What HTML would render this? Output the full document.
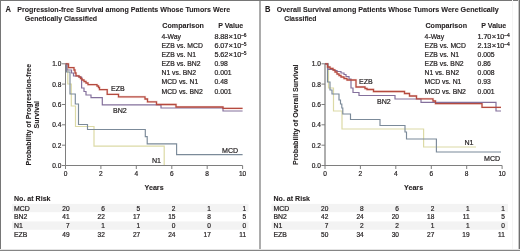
<!DOCTYPE html><html><head><meta charset="utf-8"><style>html,body{margin:0;padding:0;background:#fff;}svg{display:block;filter:blur(0.25px);}text{font-family:"Liberation Sans", sans-serif;fill:#231f20;stroke:#231f20;stroke-width:0.22px;}.b{font-weight:bold;stroke-width:0.1px;}</style></head><body>
<svg width="520" height="251" viewBox="0 0 520 251">
<rect x="0" y="0" width="520" height="251" fill="#fff"/>
<rect x="12.0" y="203.9" width="236.5" height="8.3" fill="#f3f3f3"/>
<rect x="12.0" y="221.4" width="236.5" height="8.3" fill="#f3f3f3"/>
<text class="b" x="5.60" y="11.90" font-size="8.69" textLength="5.45" lengthAdjust="spacingAndGlyphs">A</text>
<text class="b" x="17.30" y="11.80" font-size="7.95" textLength="212.80" lengthAdjust="spacingAndGlyphs">Progression-free Survival among Patients Whose Tumors Were</text>
<text class="b" x="24.80" y="21.00" font-size="7.95" textLength="72.30" lengthAdjust="spacingAndGlyphs">Genetically Classified</text>
<text class="b" x="162.30" y="28.20" font-size="7.84" textLength="41.60" lengthAdjust="spacingAndGlyphs">Comparison</text>
<text class="b" x="218.20" y="28.20" font-size="7.84" textLength="25.00" lengthAdjust="spacingAndGlyphs">P Value</text>
<text x="161.50" y="38.80" font-size="7.42" textLength="19.47" lengthAdjust="spacingAndGlyphs">4-Way</text>
<text x="214.50" y="38.80" font-size="7.3" letter-spacing="-0.15">8.88<tspan dx="0.5" font-size="7.6">×</tspan><tspan dx="0.4">10</tspan><tspan font-size="4.9" dy="-2.1">−6</tspan></text>
<text x="161.50" y="47.92" font-size="7.42" textLength="41.33" lengthAdjust="spacingAndGlyphs">EZB vs. MCD</text>
<text x="214.50" y="47.92" font-size="7.3" letter-spacing="-0.15">6.07<tspan dx="0.5" font-size="7.6">×</tspan><tspan dx="0.4">10</tspan><tspan font-size="4.9" dy="-2.1">−5</tspan></text>
<text x="161.50" y="57.04" font-size="7.42" textLength="34.51" lengthAdjust="spacingAndGlyphs">EZB vs. N1</text>
<text x="214.50" y="57.04" font-size="7.3" letter-spacing="-0.15">5.62<tspan dx="0.5" font-size="7.6">×</tspan><tspan dx="0.4">10</tspan><tspan font-size="4.9" dy="-2.1">−5</tspan></text>
<text x="161.50" y="66.16" font-size="7.42" textLength="39.06" lengthAdjust="spacingAndGlyphs">EZB vs. BN2</text>
<text x="214.50" y="66.16" font-size="7.42" textLength="13.28" lengthAdjust="spacingAndGlyphs">0.98</text>
<text x="161.50" y="75.28" font-size="7.42" textLength="34.52" lengthAdjust="spacingAndGlyphs">N1 vs. BN2</text>
<text x="214.50" y="75.28" font-size="7.42" textLength="17.08" lengthAdjust="spacingAndGlyphs">0.001</text>
<text x="161.50" y="84.40" font-size="7.42" textLength="36.78" lengthAdjust="spacingAndGlyphs">MCD vs. N1</text>
<text x="214.50" y="84.40" font-size="7.42" textLength="13.28" lengthAdjust="spacingAndGlyphs">0.48</text>
<text x="161.50" y="93.52" font-size="7.42" textLength="41.33" lengthAdjust="spacingAndGlyphs">MCD vs. BN2</text>
<text x="214.50" y="93.52" font-size="7.42" textLength="17.08" lengthAdjust="spacingAndGlyphs">0.001</text>
<path d="M65.5 63.8 V165.5" fill="none" stroke="#7e7e7e" stroke-width="1.00"/>
<path d="M65.5 165.5 H242.6" fill="none" stroke="#7e7e7e" stroke-width="1"/>
<path d="M62.0 165.5 H65.5" stroke="#7e7e7e" stroke-width="1"/>
<text x="61.30" y="167.90" font-size="7.31" text-anchor="end" textLength="9.11" lengthAdjust="spacingAndGlyphs">0.0</text>
<path d="M62.0 145.2 H65.5" stroke="#7e7e7e" stroke-width="1"/>
<text x="61.30" y="147.56" font-size="7.31" text-anchor="end" textLength="9.11" lengthAdjust="spacingAndGlyphs">0.2</text>
<path d="M62.0 124.8 H65.5" stroke="#7e7e7e" stroke-width="1"/>
<text x="61.30" y="127.22" font-size="7.31" text-anchor="end" textLength="9.11" lengthAdjust="spacingAndGlyphs">0.4</text>
<path d="M62.0 104.5 H65.5" stroke="#7e7e7e" stroke-width="1"/>
<text x="61.30" y="106.88" font-size="7.31" text-anchor="end" textLength="9.11" lengthAdjust="spacingAndGlyphs">0.6</text>
<path d="M62.0 84.1 H65.5" stroke="#7e7e7e" stroke-width="1"/>
<text x="61.30" y="86.54" font-size="7.31" text-anchor="end" textLength="9.11" lengthAdjust="spacingAndGlyphs">0.8</text>
<path d="M62.0 63.8 H65.5" stroke="#7e7e7e" stroke-width="1"/>
<text x="61.30" y="66.20" font-size="7.31" text-anchor="end" textLength="9.11" lengthAdjust="spacingAndGlyphs">1.0</text>
<path d="M65.5 165.5 V169" stroke="#7e7e7e" stroke-width="1"/>
<text x="65.50" y="176.40" font-size="7.31" text-anchor="middle" textLength="3.65" lengthAdjust="spacingAndGlyphs">0</text>
<path d="M100.9 165.5 V169" stroke="#7e7e7e" stroke-width="1"/>
<text x="100.92" y="176.40" font-size="7.31" text-anchor="middle" textLength="3.65" lengthAdjust="spacingAndGlyphs">2</text>
<path d="M136.3 165.5 V169" stroke="#7e7e7e" stroke-width="1"/>
<text x="136.34" y="176.40" font-size="7.31" text-anchor="middle" textLength="3.65" lengthAdjust="spacingAndGlyphs">4</text>
<path d="M171.8 165.5 V169" stroke="#7e7e7e" stroke-width="1"/>
<text x="171.76" y="176.40" font-size="7.31" text-anchor="middle" textLength="3.65" lengthAdjust="spacingAndGlyphs">6</text>
<path d="M207.2 165.5 V169" stroke="#7e7e7e" stroke-width="1"/>
<text x="207.18" y="176.40" font-size="7.31" text-anchor="middle" textLength="3.65" lengthAdjust="spacingAndGlyphs">8</text>
<path d="M242.6 165.5 V169" stroke="#7e7e7e" stroke-width="1"/>
<text x="242.60" y="176.40" font-size="7.31" text-anchor="middle" textLength="7.29" lengthAdjust="spacingAndGlyphs">10</text>
<text class="b" x="144.60" y="190.20" font-size="7.95" textLength="19.00" lengthAdjust="spacingAndGlyphs">Years</text>
<g transform="translate(31.0 114.7) rotate(-90)"><text class="b" x="0.00" y="0.00" font-size="7.84" text-anchor="middle" textLength="101.50" lengthAdjust="spacingAndGlyphs">Probability of Progression-free</text></g>
<g transform="translate(38.9 114.7) rotate(-90)"><text class="b" x="0.00" y="0.00" font-size="7.84" text-anchor="middle" textLength="27.50" lengthAdjust="spacingAndGlyphs">Survival</text></g>
<path d="M65.5 63.8 H68.5 V67.6 H74.0 V70.0 H75.0 V73.0 H76.0 V75.8 H79.0 V77.0 H80.5 V78.5 H82.0 V80.0 H84.0 V81.5 H86.0 V83.0 H88.0 V84.6 H97.0 V86.0 H98.5 V87.5 H99.5 V89.6 H107.2 V94.3 H118.5 V96.9 H145.0 V99.0 H147.5 V101.8 H156.5 V104.5 H176.0 V107.0 H223.0 V108.4 H242.6" fill="none" stroke="#f3cdc6" stroke-width="2.6" opacity="0.4"/>
<path d="M65.5 63.8 H67.8 V84.0 H71.3 V106.0 H75.5 V126.5 H94.0 V146.2 H164.2 V165.0" fill="none" stroke="#dcdaa6" stroke-width="1.20"/>
<path d="M65.5 63.8 H66.5 V72.0 H70.0 V94.0 H75.3 V104.0 H78.5 V124.5 H87.5 V129.5 H145.3 V136.6 H147.2 V143.8 H176.6 V154.6 H242.6" fill="none" stroke="#7b8a99" stroke-width="1.15"/>
<path d="M65.5 63.8 H67.0 V70.0 H71.5 V73.0 H73.5 V76.0 H79.0 V77.0 H81.6 V88.0 H84.0 V91.5 H86.0 V95.0 H91.0 V97.6 H102.3 V104.8 H161.0 V108.0 H223.0 V111.0 H242.6" fill="none" stroke="#84709c" stroke-width="1.20"/>
<path d="M65.5 63.8 H68.5 V67.6 H74.0 V70.0 H75.0 V73.0 H76.0 V75.8 H79.0 V77.0 H80.5 V78.5 H82.0 V80.0 H84.0 V81.5 H86.0 V83.0 H88.0 V84.6 H97.0 V86.0 H98.5 V87.5 H99.5 V89.6 H107.2 V94.3 H118.5 V96.9 H145.0 V99.0 H147.5 V101.8 H156.5 V104.5 H176.0 V107.0 H223.0 V108.4 H242.6" fill="none" stroke="#b54a3f" stroke-width="1.30"/>
<text x="111.00" y="91.00" font-size="7.74" textLength="13.77" lengthAdjust="spacingAndGlyphs">EZB</text>
<text x="113.00" y="113.20" font-size="7.74" textLength="13.78" lengthAdjust="spacingAndGlyphs">BN2</text>
<text x="152.00" y="162.70" font-size="7.74" textLength="9.05" lengthAdjust="spacingAndGlyphs">N1</text>
<text x="222.00" y="152.50" font-size="7.74" textLength="16.13" lengthAdjust="spacingAndGlyphs">MCD</text>
<text class="b" x="14.00" y="201.00" font-size="7.84" textLength="36.50" lengthAdjust="spacingAndGlyphs">No. at Risk</text>
<text x="14.00" y="210.50" font-size="7.53" textLength="15.77" lengthAdjust="spacingAndGlyphs">MCD</text>
<text x="69.60" y="210.50" font-size="7.31" text-anchor="end" textLength="7.29" lengthAdjust="spacingAndGlyphs">20</text>
<text x="104.90" y="210.50" font-size="7.31" text-anchor="end" textLength="3.65" lengthAdjust="spacingAndGlyphs">6</text>
<text x="140.20" y="210.50" font-size="7.31" text-anchor="end" textLength="3.65" lengthAdjust="spacingAndGlyphs">5</text>
<text x="175.50" y="210.50" font-size="7.31" text-anchor="end" textLength="3.65" lengthAdjust="spacingAndGlyphs">2</text>
<text x="210.80" y="210.50" font-size="7.31" text-anchor="end" textLength="3.65" lengthAdjust="spacingAndGlyphs">1</text>
<text x="246.10" y="210.50" font-size="7.31" text-anchor="end" textLength="3.65" lengthAdjust="spacingAndGlyphs">1</text>
<text x="14.00" y="219.22" font-size="7.53" textLength="13.47" lengthAdjust="spacingAndGlyphs">BN2</text>
<text x="69.60" y="219.22" font-size="7.31" text-anchor="end" textLength="7.29" lengthAdjust="spacingAndGlyphs">41</text>
<text x="104.90" y="219.22" font-size="7.31" text-anchor="end" textLength="7.29" lengthAdjust="spacingAndGlyphs">22</text>
<text x="140.20" y="219.22" font-size="7.31" text-anchor="end" textLength="7.29" lengthAdjust="spacingAndGlyphs">17</text>
<text x="175.50" y="219.22" font-size="7.31" text-anchor="end" textLength="7.29" lengthAdjust="spacingAndGlyphs">15</text>
<text x="210.80" y="219.22" font-size="7.31" text-anchor="end" textLength="3.65" lengthAdjust="spacingAndGlyphs">8</text>
<text x="246.10" y="219.22" font-size="7.31" text-anchor="end" textLength="3.65" lengthAdjust="spacingAndGlyphs">5</text>
<text x="14.00" y="227.94" font-size="7.53" textLength="8.85" lengthAdjust="spacingAndGlyphs">N1</text>
<text x="69.60" y="227.94" font-size="7.31" text-anchor="end" textLength="3.65" lengthAdjust="spacingAndGlyphs">7</text>
<text x="104.90" y="227.94" font-size="7.31" text-anchor="end" textLength="3.65" lengthAdjust="spacingAndGlyphs">1</text>
<text x="140.20" y="227.94" font-size="7.31" text-anchor="end" textLength="3.65" lengthAdjust="spacingAndGlyphs">1</text>
<text x="175.50" y="227.94" font-size="7.31" text-anchor="end" textLength="3.65" lengthAdjust="spacingAndGlyphs">0</text>
<text x="210.80" y="227.94" font-size="7.31" text-anchor="end" textLength="3.65" lengthAdjust="spacingAndGlyphs">0</text>
<text x="246.10" y="227.94" font-size="7.31" text-anchor="end" textLength="3.65" lengthAdjust="spacingAndGlyphs">0</text>
<text x="14.00" y="236.66" font-size="7.53" textLength="13.46" lengthAdjust="spacingAndGlyphs">EZB</text>
<text x="69.60" y="236.66" font-size="7.31" text-anchor="end" textLength="7.29" lengthAdjust="spacingAndGlyphs">49</text>
<text x="104.90" y="236.66" font-size="7.31" text-anchor="end" textLength="7.29" lengthAdjust="spacingAndGlyphs">32</text>
<text x="140.20" y="236.66" font-size="7.31" text-anchor="end" textLength="7.29" lengthAdjust="spacingAndGlyphs">27</text>
<text x="175.50" y="236.66" font-size="7.31" text-anchor="end" textLength="7.29" lengthAdjust="spacingAndGlyphs">24</text>
<text x="210.80" y="236.66" font-size="7.31" text-anchor="end" textLength="7.29" lengthAdjust="spacingAndGlyphs">17</text>
<text x="246.10" y="236.66" font-size="7.31" text-anchor="end" textLength="6.80" lengthAdjust="spacingAndGlyphs">11</text>
<rect x="271.5" y="203.9" width="236.5" height="8.3" fill="#f3f3f3"/>
<rect x="271.5" y="221.4" width="236.5" height="8.3" fill="#f3f3f3"/>
<text class="b" x="265.10" y="11.90" font-size="8.69" textLength="5.45" lengthAdjust="spacingAndGlyphs">B</text>
<text class="b" x="276.80" y="11.80" font-size="7.95" textLength="222.00" lengthAdjust="spacingAndGlyphs">Overall Survival among Patients Whose Tumors Were Genetically</text>
<text class="b" x="284.30" y="21.00" font-size="7.95" textLength="32.20" lengthAdjust="spacingAndGlyphs">Classified</text>
<text class="b" x="425.40" y="28.20" font-size="7.84" textLength="41.60" lengthAdjust="spacingAndGlyphs">Comparison</text>
<text class="b" x="481.30" y="28.20" font-size="7.84" textLength="25.00" lengthAdjust="spacingAndGlyphs">P Value</text>
<text x="424.60" y="38.80" font-size="7.42" textLength="19.47" lengthAdjust="spacingAndGlyphs">4-Way</text>
<text x="477.60" y="38.80" font-size="7.3" letter-spacing="-0.15">1.70<tspan dx="0.5" font-size="7.6">×</tspan><tspan dx="0.4">10</tspan><tspan font-size="4.9" dy="-2.1">−4</tspan></text>
<text x="424.60" y="47.92" font-size="7.42" textLength="41.33" lengthAdjust="spacingAndGlyphs">EZB vs. MCD</text>
<text x="477.60" y="47.92" font-size="7.3" letter-spacing="-0.15">2.13<tspan dx="0.5" font-size="7.6">×</tspan><tspan dx="0.4">10</tspan><tspan font-size="4.9" dy="-2.1">−4</tspan></text>
<text x="424.60" y="57.04" font-size="7.42" textLength="34.51" lengthAdjust="spacingAndGlyphs">EZB vs. N1</text>
<text x="477.60" y="57.04" font-size="7.42" textLength="17.08" lengthAdjust="spacingAndGlyphs">0.005</text>
<text x="424.60" y="66.16" font-size="7.42" textLength="39.06" lengthAdjust="spacingAndGlyphs">EZB vs. BN2</text>
<text x="477.60" y="66.16" font-size="7.42" textLength="13.28" lengthAdjust="spacingAndGlyphs">0.86</text>
<text x="424.60" y="75.28" font-size="7.42" textLength="34.52" lengthAdjust="spacingAndGlyphs">N1 vs. BN2</text>
<text x="477.60" y="75.28" font-size="7.42" textLength="17.08" lengthAdjust="spacingAndGlyphs">0.008</text>
<text x="424.60" y="84.40" font-size="7.42" textLength="36.78" lengthAdjust="spacingAndGlyphs">MCD vs. N1</text>
<text x="477.60" y="84.40" font-size="7.42" textLength="13.28" lengthAdjust="spacingAndGlyphs">0.93</text>
<text x="424.60" y="93.52" font-size="7.42" textLength="41.33" lengthAdjust="spacingAndGlyphs">MCD vs. BN2</text>
<text x="477.60" y="93.52" font-size="7.42" textLength="17.08" lengthAdjust="spacingAndGlyphs">0.001</text>
<path d="M325.0 63.8 V165.5" fill="none" stroke="#7e7e7e" stroke-width="1.25"/>
<path d="M325.0 165.5 H502.1" fill="none" stroke="#7e7e7e" stroke-width="1"/>
<path d="M321.5 165.5 H325.0" stroke="#7e7e7e" stroke-width="1"/>
<text x="320.80" y="167.90" font-size="7.31" text-anchor="end" textLength="9.11" lengthAdjust="spacingAndGlyphs">0.0</text>
<path d="M321.5 145.2 H325.0" stroke="#7e7e7e" stroke-width="1"/>
<text x="320.80" y="147.56" font-size="7.31" text-anchor="end" textLength="9.11" lengthAdjust="spacingAndGlyphs">0.2</text>
<path d="M321.5 124.8 H325.0" stroke="#7e7e7e" stroke-width="1"/>
<text x="320.80" y="127.22" font-size="7.31" text-anchor="end" textLength="9.11" lengthAdjust="spacingAndGlyphs">0.4</text>
<path d="M321.5 104.5 H325.0" stroke="#7e7e7e" stroke-width="1"/>
<text x="320.80" y="106.88" font-size="7.31" text-anchor="end" textLength="9.11" lengthAdjust="spacingAndGlyphs">0.6</text>
<path d="M321.5 84.1 H325.0" stroke="#7e7e7e" stroke-width="1"/>
<text x="320.80" y="86.54" font-size="7.31" text-anchor="end" textLength="9.11" lengthAdjust="spacingAndGlyphs">0.8</text>
<path d="M321.5 63.8 H325.0" stroke="#7e7e7e" stroke-width="1"/>
<text x="320.80" y="66.20" font-size="7.31" text-anchor="end" textLength="9.11" lengthAdjust="spacingAndGlyphs">1.0</text>
<path d="M325.0 165.5 V169" stroke="#7e7e7e" stroke-width="1"/>
<text x="325.00" y="176.40" font-size="7.31" text-anchor="middle" textLength="3.65" lengthAdjust="spacingAndGlyphs">0</text>
<path d="M360.4 165.5 V169" stroke="#7e7e7e" stroke-width="1"/>
<text x="360.42" y="176.40" font-size="7.31" text-anchor="middle" textLength="3.65" lengthAdjust="spacingAndGlyphs">2</text>
<path d="M395.8 165.5 V169" stroke="#7e7e7e" stroke-width="1"/>
<text x="395.84" y="176.40" font-size="7.31" text-anchor="middle" textLength="3.65" lengthAdjust="spacingAndGlyphs">4</text>
<path d="M431.3 165.5 V169" stroke="#7e7e7e" stroke-width="1"/>
<text x="431.26" y="176.40" font-size="7.31" text-anchor="middle" textLength="3.65" lengthAdjust="spacingAndGlyphs">6</text>
<path d="M466.7 165.5 V169" stroke="#7e7e7e" stroke-width="1"/>
<text x="466.68" y="176.40" font-size="7.31" text-anchor="middle" textLength="3.65" lengthAdjust="spacingAndGlyphs">8</text>
<path d="M502.1 165.5 V169" stroke="#7e7e7e" stroke-width="1"/>
<text x="502.10" y="176.40" font-size="7.31" text-anchor="middle" textLength="7.29" lengthAdjust="spacingAndGlyphs">10</text>
<text class="b" x="404.10" y="190.20" font-size="7.95" textLength="19.00" lengthAdjust="spacingAndGlyphs">Years</text>
<g transform="translate(298.4 114.7) rotate(-90)"><text class="b" x="0.00" y="0.00" font-size="7.84" text-anchor="middle" textLength="100.50" lengthAdjust="spacingAndGlyphs">Probability of Overall Survival</text></g>
<path d="M325.0 63.8 H327.5 V67.0 H330.0 V68.5 H333.0 V70.0 H335.0 V72.0 H337.0 V74.0 H339.0 V75.5 H341.0 V77.0 H344.0 V78.5 H347.0 V80.0 H356.0 V87.0 H365.0 V88.5 H367.0 V89.5 H373.5 V91.5 H404.5 V93.5 H409.5 V96.0 H416.5 V98.8 H433.0 V101.0 H435.5 V103.6 H482.0 V107.3 H501.0" fill="none" stroke="#f3cdc6" stroke-width="2.6" opacity="0.4"/>
<path d="M325.0 63.8 H328.5 V88.0 H333.5 V111.0 H342.0 V129.0 H423.6 V147.0 H476.0" fill="none" stroke="#dcdaa6" stroke-width="1.20"/>
<path d="M325.0 63.8 H327.5 V82.0 H330.0 V90.0 H332.0 V94.0 H339.0 V100.0 H340.5 V104.0 H341.8 V108.0 H342.8 V114.0 H350.5 V119.5 H380.0 V125.5 H405.0 V132.0 H406.5 V139.0 H436.4 V152.0 H501.0" fill="none" stroke="#7b8a99" stroke-width="1.15"/>
<path d="M325.0 63.8 H328.0 V69.5 H334.0 V70.5 H337.0 V71.5 H341.0 V73.0 H344.0 V74.5 H346.0 V76.5 H349.0 V79.0 H351.0 V88.0 H353.0 V92.5 H359.0 V95.5 H395.0 V99.0 H421.0 V102.3 H496.0 V111.0 H501.0" fill="none" stroke="#84709c" stroke-width="1.20"/>
<path d="M325.0 63.8 H327.5 V67.0 H330.0 V68.5 H333.0 V70.0 H335.0 V72.0 H337.0 V74.0 H339.0 V75.5 H341.0 V77.0 H344.0 V78.5 H347.0 V80.0 H356.0 V87.0 H365.0 V88.5 H367.0 V89.5 H373.5 V91.5 H404.5 V93.5 H409.5 V96.0 H416.5 V98.8 H433.0 V101.0 H435.5 V103.6 H482.0 V107.3 H501.0" fill="none" stroke="#b54a3f" stroke-width="1.30"/>
<text x="359.00" y="84.40" font-size="7.74" textLength="13.77" lengthAdjust="spacingAndGlyphs">EZB</text>
<text x="377.00" y="104.00" font-size="7.74" textLength="13.78" lengthAdjust="spacingAndGlyphs">BN2</text>
<text x="464.40" y="145.00" font-size="7.74" textLength="9.05" lengthAdjust="spacingAndGlyphs">N1</text>
<text x="484.00" y="161.00" font-size="7.74" textLength="16.13" lengthAdjust="spacingAndGlyphs">MCD</text>
<text class="b" x="273.50" y="201.00" font-size="7.84" textLength="36.50" lengthAdjust="spacingAndGlyphs">No. at Risk</text>
<text x="273.50" y="210.50" font-size="7.53" textLength="15.77" lengthAdjust="spacingAndGlyphs">MCD</text>
<text x="328.40" y="210.50" font-size="7.31" text-anchor="end" textLength="7.29" lengthAdjust="spacingAndGlyphs">20</text>
<text x="363.70" y="210.50" font-size="7.31" text-anchor="end" textLength="3.65" lengthAdjust="spacingAndGlyphs">8</text>
<text x="399.00" y="210.50" font-size="7.31" text-anchor="end" textLength="3.65" lengthAdjust="spacingAndGlyphs">6</text>
<text x="434.30" y="210.50" font-size="7.31" text-anchor="end" textLength="3.65" lengthAdjust="spacingAndGlyphs">2</text>
<text x="469.60" y="210.50" font-size="7.31" text-anchor="end" textLength="3.65" lengthAdjust="spacingAndGlyphs">1</text>
<text x="504.90" y="210.50" font-size="7.31" text-anchor="end" textLength="3.65" lengthAdjust="spacingAndGlyphs">1</text>
<text x="273.50" y="219.22" font-size="7.53" textLength="13.47" lengthAdjust="spacingAndGlyphs">BN2</text>
<text x="328.40" y="219.22" font-size="7.31" text-anchor="end" textLength="7.29" lengthAdjust="spacingAndGlyphs">42</text>
<text x="363.70" y="219.22" font-size="7.31" text-anchor="end" textLength="7.29" lengthAdjust="spacingAndGlyphs">24</text>
<text x="399.00" y="219.22" font-size="7.31" text-anchor="end" textLength="7.29" lengthAdjust="spacingAndGlyphs">20</text>
<text x="434.30" y="219.22" font-size="7.31" text-anchor="end" textLength="7.29" lengthAdjust="spacingAndGlyphs">18</text>
<text x="469.60" y="219.22" font-size="7.31" text-anchor="end" textLength="6.80" lengthAdjust="spacingAndGlyphs">11</text>
<text x="504.90" y="219.22" font-size="7.31" text-anchor="end" textLength="3.65" lengthAdjust="spacingAndGlyphs">5</text>
<text x="273.50" y="227.94" font-size="7.53" textLength="8.85" lengthAdjust="spacingAndGlyphs">N1</text>
<text x="328.40" y="227.94" font-size="7.31" text-anchor="end" textLength="3.65" lengthAdjust="spacingAndGlyphs">7</text>
<text x="363.70" y="227.94" font-size="7.31" text-anchor="end" textLength="3.65" lengthAdjust="spacingAndGlyphs">2</text>
<text x="399.00" y="227.94" font-size="7.31" text-anchor="end" textLength="3.65" lengthAdjust="spacingAndGlyphs">2</text>
<text x="434.30" y="227.94" font-size="7.31" text-anchor="end" textLength="3.65" lengthAdjust="spacingAndGlyphs">1</text>
<text x="469.60" y="227.94" font-size="7.31" text-anchor="end" textLength="3.65" lengthAdjust="spacingAndGlyphs">1</text>
<text x="504.90" y="227.94" font-size="7.31" text-anchor="end" textLength="3.65" lengthAdjust="spacingAndGlyphs">0</text>
<text x="273.50" y="236.66" font-size="7.53" textLength="13.46" lengthAdjust="spacingAndGlyphs">EZB</text>
<text x="328.40" y="236.66" font-size="7.31" text-anchor="end" textLength="7.29" lengthAdjust="spacingAndGlyphs">50</text>
<text x="363.70" y="236.66" font-size="7.31" text-anchor="end" textLength="7.29" lengthAdjust="spacingAndGlyphs">34</text>
<text x="399.00" y="236.66" font-size="7.31" text-anchor="end" textLength="7.29" lengthAdjust="spacingAndGlyphs">30</text>
<text x="434.30" y="236.66" font-size="7.31" text-anchor="end" textLength="7.29" lengthAdjust="spacingAndGlyphs">27</text>
<text x="469.60" y="236.66" font-size="7.31" text-anchor="end" textLength="7.29" lengthAdjust="spacingAndGlyphs">19</text>
<text x="504.90" y="236.66" font-size="7.31" text-anchor="end" textLength="6.80" lengthAdjust="spacingAndGlyphs">11</text>
<rect x="259" y="0" width="2" height="251" fill="#acacac"/>
<rect x="0" y="0" width="520" height="1" fill="#767676"/>
<rect x="0" y="0" width="1" height="251" fill="#767676"/>
<rect x="519" y="0" width="1" height="251" fill="#707070"/>
<rect x="512" y="0" width="1" height="251" fill="#f4f4f4"/>
<rect x="518" y="0" width="1" height="251" fill="#c8c8c8"/>
<rect x="0" y="250" width="520" height="1" fill="#858585"/>
<rect x="0" y="249" width="520" height="1" fill="#e4e4e4"/>
</svg></body></html>
